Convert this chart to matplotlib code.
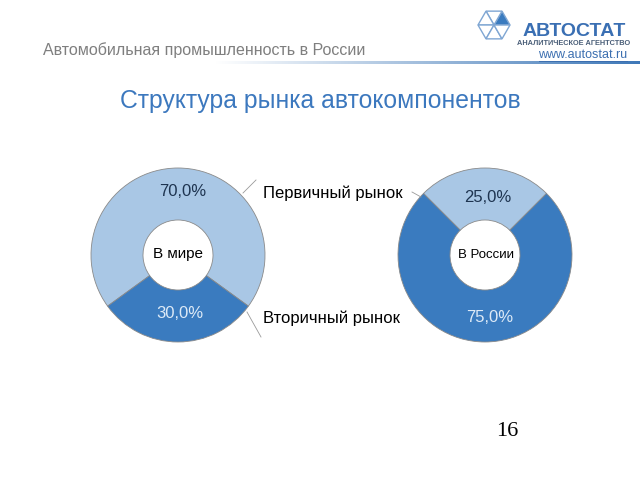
import numpy as np
import matplotlib
matplotlib.use("Agg")
import matplotlib.pyplot as plt
from matplotlib.patches import Polygon

plt.rcParams["font.family"] = ["Liberation Sans", "DejaVu Sans"]

# data
segments = ["Первичный рынок", "Вторичный рынок"]
world_share = [70.0, 30.0]
russia_share = [25.0, 75.0]
world_label = "В мире"
russia_label = "В России"
header = "Автомобильная промышленность в России"
title = "Структура рынка автокомпонентов"
page_no = "16"

LIGHT = "#A9C7E5"
DARK = "#3A7BBF"
W, H = 640, 480


def Y(py):
    # pixel row -> axis y (axis grows upward)
    return H - py


fig = plt.figure(figsize=(6.4, 4.8), dpi=100)
ax = fig.add_axes([0, 0, 1, 1])

# header + gradient rule
ax.text(43, Y(50), header, fontsize=11.5, color="#7F7F7F", va="center", ha="left")
grad = np.linspace(0, 1, 256).reshape(1, -1)
cmap = matplotlib.colors.LinearSegmentedColormap.from_list("rule", ["#FFFFFF", "#3E78B8"])
ax.imshow(grad, cmap=cmap, extent=(215, W, Y(64.5), Y(62)), aspect="auto", zorder=1)

# logo
cx, cy, r = 494, Y(25), 16
ang = np.deg2rad(np.arange(0, 360, 60))
pts = [(cx + r * np.cos(a), cy + r * np.sin(a)) for a in ang]
for i in range(6):
    tri = [(cx, cy), pts[i], pts[(i + 1) % 6]]
    filled = i == 0
    ax.add_patch(Polygon(tri, closed=True, facecolor=DARK if filled else "white",
                         edgecolor="#7FA6D3", lw=1.0, zorder=3))
ax.text(574, Y(32), "АВТОСТАТ", fontsize=14, fontweight="bold", color="#3A6FB3",
        ha="center", va="center")
ax.text(574, Y(43.5), "АНАЛИТИЧЕСКОЕ АГЕНТСТВО", fontsize=5.3, fontweight="bold",
        color="#4A5E78", ha="center", va="center")
ax.text(627, Y(55), "www.autostat.ru", fontsize=9, color="#3C6FB0", ha="right",
        va="center")
ax.plot([539, 627], [Y(60.5), Y(60.5)], color="#3C6FB0", lw=0.7)

# title
ax.text(320, Y(101), title, fontsize=17.8, color="#3C78BE", ha="center", va="center")

edge = dict(edgecolor="#8A8A8A", linewidth=0.6)
rad, hole = 87, 35

# world donut
ax.pie(world_share, colors=[LIGHT, DARK], startangle=324, counterclock=True,
       center=(178, Y(255)), radius=rad, wedgeprops=dict(width=rad - hole, **edge),
       frame=True)
# russia donut
ax.pie(russia_share, colors=[LIGHT, DARK], startangle=45, counterclock=True,
       center=(485, Y(255)), radius=rad, wedgeprops=dict(width=rad - hole, **edge),
       frame=True)


def pct(v):
    return f"{v:.1f}%".replace(".", ",")


ax.text(183, Y(192), pct(world_share[0]), fontsize=12, color="#1E3450", ha="center", va="center")
ax.text(180, Y(313), pct(world_share[1]), fontsize=12, color="#DDEAF7", ha="center", va="center")
ax.text(488, Y(197), pct(russia_share[0]), fontsize=12, color="#1E3450", ha="center", va="center")
ax.text(490, Y(318), pct(russia_share[1]), fontsize=12, color="#DDEAF7", ha="center", va="center")

ax.text(178, Y(254), world_label, fontsize=11, color="black", ha="center", va="center")
ax.text(486, Y(255), russia_label, fontsize=9.5, color="black", ha="center", va="center")

# legend labels with leader lines
ax.text(263, Y(193), segments[0], fontsize=12, color="black", ha="left", va="center")
ax.text(263, Y(318), segments[1], fontsize=12, color="black", ha="left", va="center")
lc = "#9A9A9A"
ax.plot([243, 256], [Y(193), Y(180)], color=lc, lw=0.6)
ax.plot([247, 261], [Y(312), Y(337)], color=lc, lw=0.6)
ax.plot([412, 421], [Y(192), Y(197)], color=lc, lw=0.6)

# page number
ax.text(507, Y(432), page_no, fontsize=16, family="Liberation Serif", color="black",
        ha="center", va="center")

ax.set_xlim(0, W)
ax.set_ylim(0, H)
ax.set_aspect("equal")
ax.axis("off")

fig.savefig("out.png", dpi=100)
